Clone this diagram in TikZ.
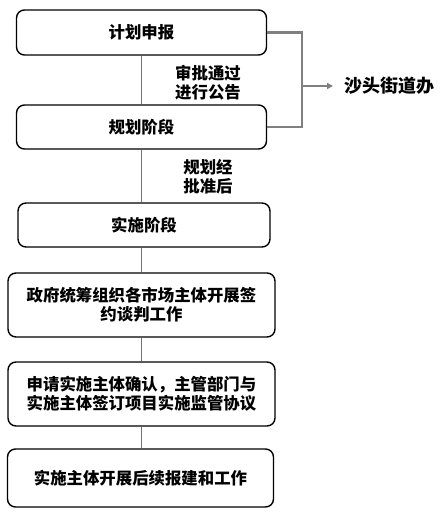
\documentclass[tikz,border=0pt]{standalone}
\usepackage{fontspec}
\newfontfamily\cjk{Noto Sans CJK SC}
\usetikzlibrary{arrows.meta}
\begin{document}
\begin{tikzpicture}[x=1pt,y=-1pt,
  stepbox/.style={draw=black,line width=1.4pt,rounded corners=8pt,fill=white,inner sep=0pt,align=center,font=\cjk\bfseries\fontsize{16.4}{19}\selectfont},
  lbl/.style={inner sep=0pt,align=center,font=\cjk\bfseries\fontsize{16.4}{19}\selectfont},
  link/.style={draw=black!55,line width=1.3pt},
  brk/.style={draw=black!50,line width=2.4pt}]
\useasboundingbox (0,0) rectangle (442,515);
\node[stepbox,minimum width=250pt,minimum height=45pt] (b1) at (141.5,32.5) {计划申报};
\node[stepbox,minimum width=250pt,minimum height=44pt] (b2) at (141.5,127) {规划阶段};
\node[stepbox,minimum width=252pt,minimum height=44pt] (b3) at (144,225) {实施阶段};
\node[stepbox,minimum width=267pt,minimum height=64pt] (b4) at (141.5,305) {政府统筹组织各市场主体开展签\\约谈判工作};
\node[stepbox,minimum width=267pt,minimum height=64pt] (b5) at (141.5,394) {申请实施主体确认，主管部门与\\实施主体签订项目实施监管协议};
\node[stepbox,minimum width=266pt,minimum height=58pt] (b6) at (140.5,478) {实施主体开展后续报建和工作};
\node[lbl] (l1) at (208,82.5) {审批通过\\进行公告};
\node[lbl] (l2) at (208,177) {规划经\\批准后};
\node[lbl,anchor=west,font=\cjk\bfseries\fontsize{18}{20}\selectfont] (sh) at (344,86) {沙头街道办};
\coordinate (j) at (302,86);
\draw[link] (b1.south) -- (b2.north);
\draw[link] (b2.south) -- (b2.south |- b3.north);
\draw[link] (b2.south |- b3.south) -- (b2.south |- b4.north);
\draw[link] (b2.south |- b4.south) -- (b2.south |- b5.north);
\draw[link] (b2.south |- b5.south) -- (b2.south |- b6.north);
\draw[brk] (b1.east) -- (j |- b1.east) -- (j |- b2.east) -- (b2.east);
\draw[brk,line width=1.6pt,-{Triangle[length=6pt,width=6pt]}] (j) -- (333,86);
\end{tikzpicture}
\end{document}
